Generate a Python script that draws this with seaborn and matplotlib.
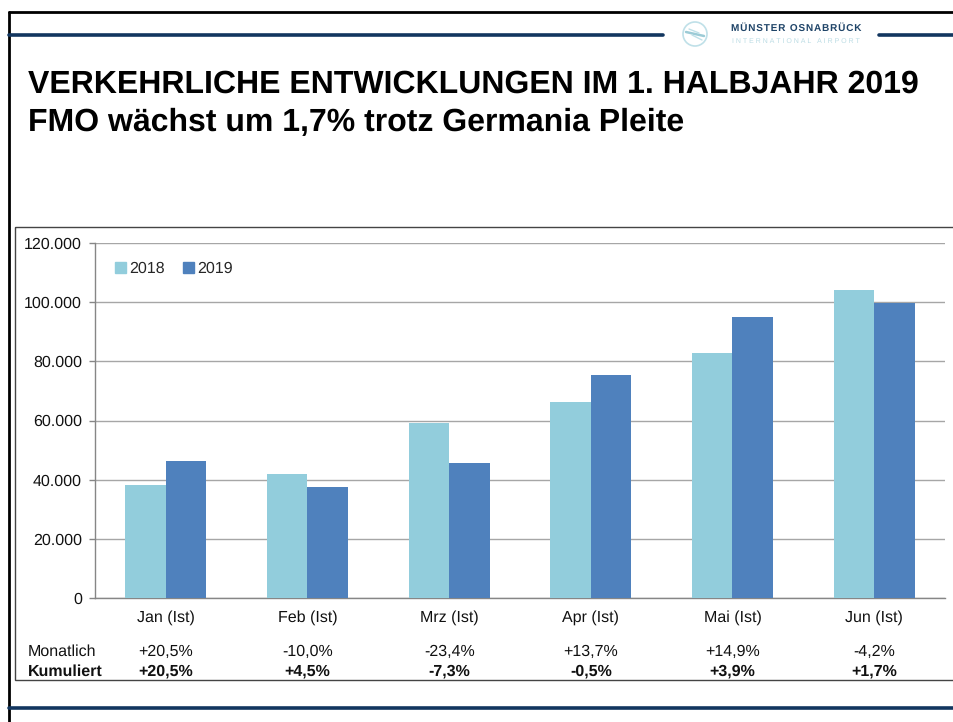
import pandas as pd
import matplotlib
matplotlib.use("Agg")
import matplotlib.pyplot as plt
import seaborn as sns
from matplotlib.lines import Line2D
from matplotlib.patches import Circle, Rectangle, Patch

months = ["Jan (Ist)", "Feb (Ist)", "Mrz (Ist)", "Apr (Ist)", "Mai (Ist)", "Jun (Ist)"]
values_2018 = [38300, 41800, 59200, 66400, 82700, 104000]
values_2019 = [46200, 37600, 45500, 75500, 94900, 99700]
monatlich = ["+20,5%", "-10,0%", "-23,4%", "+13,7%", "+14,9%", "-4,2%"]
kumuliert = ["+20,5%", "+4,5%", "-7,3%", "-0,5%", "+3,9%", "+1,7%"]
yticks = [0, 20000, 40000, 60000, 80000, 100000, 120000]
ylabels = ["0", "20.000", "40.000", "60.000", "80.000", "100.000", "120.000"]
colors = {"2018": "#92CDDC", "2019": "#4F81BD"}

W, H = 954, 722
FS = 11.4

sns.set_theme(style="white")
plt.rcParams["font.family"] = ["Liberation Sans", "DejaVu Sans"]
plt.rcParams["text.hinting"] = "none"
plt.rcParams["text.hinting_factor"] = 1

df = pd.DataFrame({"month": months, "2018": values_2018, "2019": values_2019})
df = df.melt(id_vars="month", var_name="year", value_name="passengers")

fig = plt.figure(figsize=(W / 100, H / 100), dpi=100)

# overlay in pixel coordinates for the slide frame, header and logo
bg = fig.add_axes([0, 0, 1, 1], zorder=0)
bg.set_xlim(0, W)
bg.set_ylim(H, 0)
bg.axis("off")
bg.add_line(Line2D([9, 9], [12, H], color="black", lw=2.0))
bg.add_line(Line2D([9, W], [12, 12], color="black", lw=2.0))
bg.add_line(Line2D([9, 663], [35, 35], color="#12365F", lw=2.6))
bg.add_line(Line2D([879, W], [35, 35], color="#12365F", lw=2.6))
bg.add_line(Line2D([9, W], [708, 708], color="#12365F", lw=2.6))
bg.add_patch(Rectangle((15, 227), W, 453, fill=False, ec="#444444", lw=1.0))

# logo
bg.add_patch(Circle((695, 34), 12, fill=False, ec="#BFE0E8", lw=1.2))
bg.add_line(Line2D([686, 704], [32, 36], color="#9CCBD6", lw=1.8))
bg.add_line(Line2D([689, 699], [29, 33], color="#BFE0E8", lw=1.0))
bg.add_line(Line2D([692, 702], [35, 40], color="#BFE0E8", lw=1.0))
bg.text(796, 28, "\u200a".join("MÜNSTER OSNABRÜCK"), fontsize=6.9, fontweight="bold", color="#1F4468",
        ha="center", va="center")
bg.text(796, 41.5, "I N T E R N A T I O N A L   A I R P O R T", fontsize=4.8, color="#BBDCE4",
        ha="center", va="center")

bg.text(28, 84.5, "VERKEHRLICHE ENTWICKLUNGEN IM 1. HALBJAHR 2019", fontsize=23.05,
        fontweight="bold", color="black", va="center")
bg.text(28, 122.5, "FMO wächst um 1,7% trotz Germania Pleite", fontsize=23.05,
        fontweight="bold", color="black", va="center")

# chart axes
ax = fig.add_axes([95 / W, 1 - 598 / H, 850 / W, 355 / H], zorder=1)
ax.patch.set_alpha(0)
sns.barplot(data=df, x="month", y="passengers", hue="year", palette=colors,
            width=0.572, gap=0, saturation=1, legend=False, ax=ax, zorder=3,
            linewidth=0, edgecolor="none")
ax.set_xlim(-0.5, 5.5)
ax.set_ylim(0, 120000)
ax.set_yticks(yticks)
ax.set_yticklabels(ylabels)
ax.set_xlabel("")
ax.set_ylabel("")
ax.yaxis.grid(True, color="#A6A6A6", lw=1.0, zorder=0)
ax.set_axisbelow(True)
for side in ["top", "right"]:
    ax.spines[side].set_visible(False)
for side in ["left", "bottom"]:
    ax.spines[side].set_color("#868686")
    ax.spines[side].set_linewidth(1.0)
ax.set_xticks([i - 0.5 for i in range(7)], minor=True)
ax.tick_params(axis="x", which="major", length=0, pad=9, labelsize=FS, colors="#111111")
ax.tick_params(axis="x", which="minor", length=4, width=1.0, color="#868686", direction="out")
ax.tick_params(axis="y", length=4, width=1.0, color="#868686", pad=5.5, labelsize=FS,
               labelcolor="#111111", left=True)

ax.legend(handles=[Patch(color=colors["2018"], label="2018"), Patch(color=colors["2019"], label="2019")],
          loc="upper left", bbox_to_anchor=(0.0235, 0.948), ncol=2, frameon=False, fontsize=FS,
          handlelength=0.72, handleheight=0.72, handletextpad=0.2, columnspacing=1.1, borderaxespad=0,
          borderpad=0)

# table under the chart
for i in range(6):
    bg.text(95 + (i + 0.5) * 850 / 6, 652, monatlich[i], fontsize=FS, color="#111111", ha="center", va="center")
    bg.text(95 + (i + 0.5) * 850 / 6, 671.5, kumuliert[i], fontsize=FS, fontweight="bold", color="#111111",
            ha="center", va="center")
bg.text(28, 652, "Monatlich", fontsize=FS, color="#111111", va="center")
bg.text(28, 671.5, "Kumuliert", fontsize=FS, fontweight="bold", color="#111111", va="center")

fig.savefig("out.png", dpi=100, facecolor="white")
